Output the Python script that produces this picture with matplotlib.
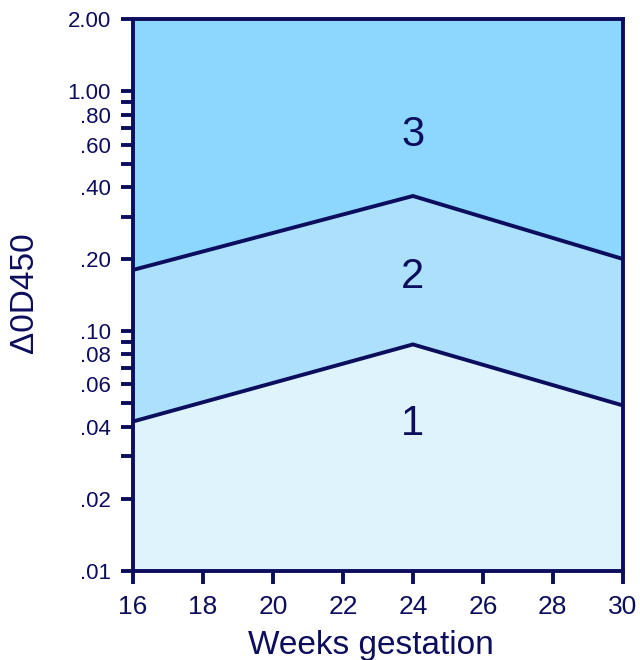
import numpy as np
import matplotlib.pyplot as plt

plt.rcParams['font.family'] = ['Liberation Sans', 'DejaVu Sans']

weeks = [16, 24, 30]
lower_line = [0.042, 0.088, 0.049]
upper_line = [0.18, 0.366, 0.20]

zone_names = ['1', '2', '3']
zone_label_y = [0.041, 0.168, 0.66]

yticks = [0.01, 0.02, 0.03, 0.04, 0.05, 0.06, 0.07, 0.08, 0.09, 0.10,
          0.2, 0.3, 0.4, 0.5, 0.6, 0.7, 0.8, 0.9, 1.0, 2.0]
ylabels = {0.01: '.01', 0.02: '.02', 0.04: '.04', 0.06: '.06', 0.08: '.08',
           0.10: '.10', 0.2: '.20', 0.4: '.40', 0.6: '.60', 0.8: '.80',
           1.0: '1.00', 2.0: '2.00'}
xticks = [16, 18, 20, 22, 24, 26, 28, 30]

navy = '#0d0d5e'
c1, c2, c3 = '#dff3fc', '#ade1fb', '#8dd6fc'

fig = plt.figure(figsize=(6.4, 6.6), dpi=100)
ax = fig.add_axes([0.208, 0.135, 0.765, 0.836])

ax.fill_between(weeks, 0.01, lower_line, color=c1, linewidth=0)
ax.fill_between(weeks, lower_line, upper_line, color=c2, linewidth=0)
ax.fill_between(weeks, upper_line, 2.0, color=c3, linewidth=0)
ax.plot(weeks, lower_line, color=navy, lw=2.8, solid_joinstyle='miter')
ax.plot(weeks, upper_line, color=navy, lw=2.8, solid_joinstyle='miter')

for name, y in zip(zone_names, zone_label_y):
    ax.text(24, y, name, ha='center', va='center', fontsize=30, color=navy)

ax.set_yscale('log')
ax.set_xlim(16, 30)
ax.set_ylim(0.01, 2.0)
ax.minorticks_off()
ax.set_yticks(yticks)
ax.set_yticklabels([ylabels.get(t, '') for t in yticks])
ax.set_xticks(xticks)
ax.set_xticklabels([str(t) for t in xticks])

for s in ax.spines.values():
    s.set_color(navy)
    s.set_linewidth(2.8)
ax.tick_params(axis='both', direction='out', length=9, width=2.8, color=navy,
               labelcolor=navy)
ax.tick_params(axis='y', labelsize=16, pad=7)
ax.tick_params(axis='x', labelsize=19, pad=8)

ax.set_xlabel('Weeks gestation', fontsize=24, color=navy)
ax.xaxis.set_label_coords(0.486, -0.108)
ax.set_ylabel('\u03940D450', fontsize=24, color=navy)
ax.yaxis.set_label_coords(-0.19, 0.505)

fig.savefig('out.png', dpi=100)
